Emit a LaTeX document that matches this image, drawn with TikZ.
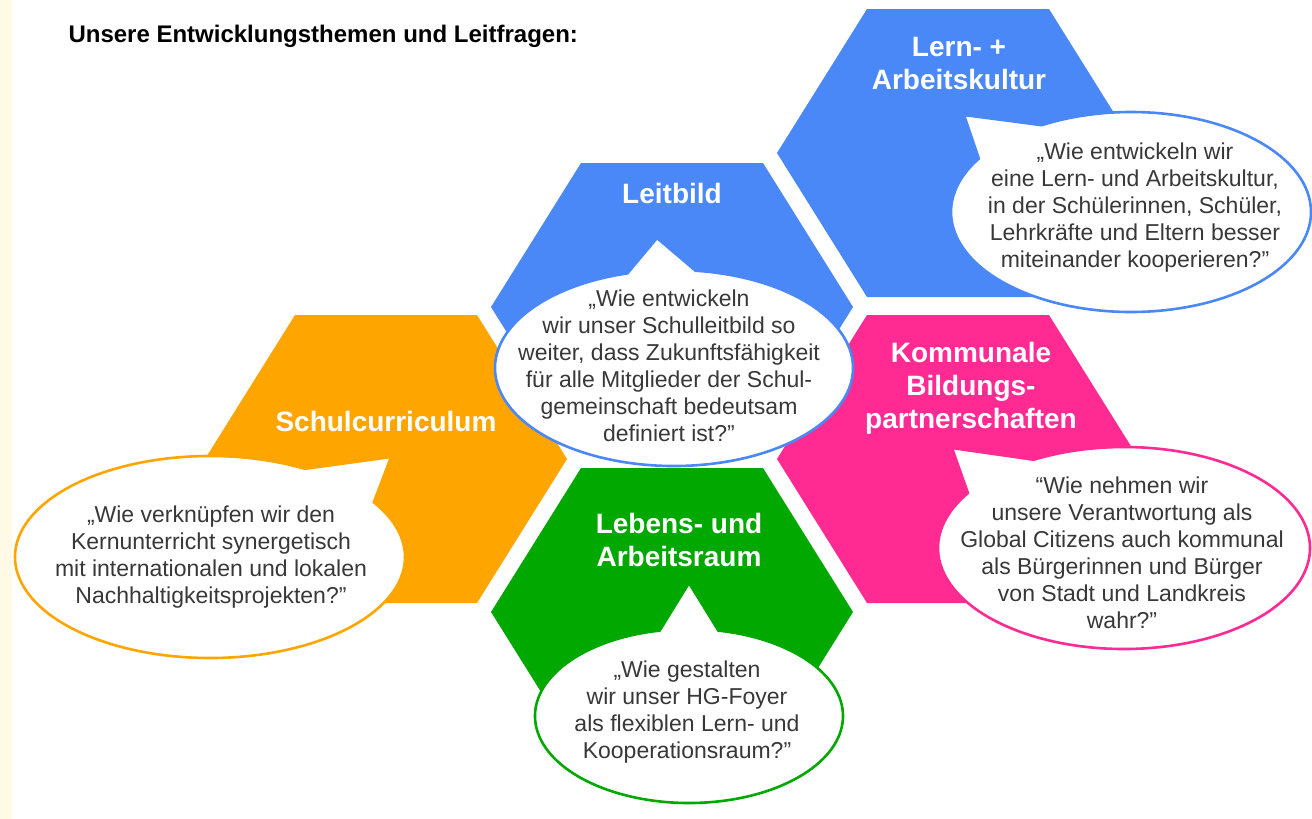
\documentclass[tikz,border=0pt]{standalone}
\usepackage{fontspec}
\setmainfont{Liberation Sans}
\usetikzlibrary{shapes.callouts}

\definecolor{leitblue}{HTML}{4A88F8}
\definecolor{currorange}{HTML}{FFA500}
\definecolor{kommpink}{HTML}{FF2A92}
\definecolor{raumgreen}{HTML}{00A800}
\definecolor{quotegray}{HTML}{383838}
\definecolor{papercream}{HTML}{FFFAE6}

\begin{document}
\begin{tikzpicture}[x=1pt,y=-1pt,
    topic/.style={text=white,font=\fontsize{28}{33}\selectfont\bfseries,align=center},
    question/.style={text=quotegray,font=\fontsize{23}{27}\selectfont,align=center},
    bubble/.style={ellipse callout,draw,fill=white,line width=2.6pt,inner sep=0pt,callout pointer arc=28}]
\useasboundingbox (0,0) rectangle (1312,819);
\fill[white] (0,0) rectangle (1312,819);
\fill[papercream] (0,0) rectangle (12,819);

\node[anchor=base west,font=\fontsize{24}{28}\selectfont\bfseries] (heading) at (65,42) {Unsere Entwicklungsthemen und Leitfragen:};

% hexagon centres
\coordinate (lern) at (958,153);
\coordinate (leit) at (672,307);
\coordinate (schul) at (386,459);
\coordinate (komm) at (958,459);
\coordinate (raum) at (672,612);

\fill[leitblue] (lern) +(-181,0) -- +(-91,-144) -- +(91,-144) -- +(181,0) -- +(91,144) -- +(-91,144) -- cycle;
\fill[leitblue] (leit) +(-181,0) -- +(-91,-144) -- +(91,-144) -- +(181,0) -- +(91,144) -- +(-91,144) -- cycle;
\fill[currorange] (schul) +(-181,0) -- +(-91,-144) -- +(91,-144) -- +(181,0) -- +(91,144) -- +(-91,144) -- cycle;
\fill[kommpink] (komm) +(-181,0) -- +(-91,-144) -- +(91,-144) -- +(181,0) -- +(91,144) -- +(-91,144) -- cycle;
\fill[raumgreen] (raum) +(-181,0) -- +(-91,-144) -- +(91,-144) -- +(181,0) -- +(91,144) -- +(-91,144) -- cycle;

% topics
\node[topic] (lerntitle) at (959,64) {Lern- +\\Arbeitskultur};
\node[topic] (leittitle) at (672,193) {Leitbild};
\node[topic] (schultitle) at (386,421) {Schulcurriculum};
\node[topic] (kommtitle) at (971,388) {Kommunale\\Bildungs-\\partnerschaften};
\node[topic] (raumtitle) at (679,540) {Lebens- und\\Arbeitsraum};

% speech bubbles
\node[bubble,draw=leitblue,minimum width=360,minimum height=200,callout absolute pointer={(964,115)}] (lernbubble) at (1131,212) {};
\node[bubble,draw=leitblue,minimum width=358,minimum height=196,callout pointer arc=22,callout absolute pointer={(657,238)}] (leitbubble) at (674,368) {};
\node[bubble,draw=currorange,minimum width=390,minimum height=202,callout absolute pointer={(391,457)}] (schulbubble) at (210,557) {};
\node[bubble,draw=kommpink,minimum width=372,minimum height=202,callout absolute pointer={(952,448)}] (kommbubble) at (1124,548) {};
\node[bubble,draw=raumgreen,minimum width=308,minimum height=174,callout pointer arc=22,callout absolute pointer={(689,583)}] (raumbubble) at (689,716) {};

% questions
\node[question] (lernq) at (1135,208) {„Wie entwickeln wir\\eine Lern- und Arbeitskultur,\\in der Schülerinnen, Schüler,\\Lehrkräfte und Eltern besser\\miteinander kooperieren?”};
\node[question] (leitq) at (669,366) {„Wie entwickeln\\wir unser Schulleitbild so\\weiter, dass Zukunftsfähigkeit\\für alle Mitglieder der Schul-\\gemeinschaft bedeutsam\\definiert ist?”};
\node[question] (schulq) at (211,557) {„Wie verknüpfen wir den\\Kernunterricht synergetisch\\mit internationalen und lokalen\\Nachhaltigkeitsprojekten?”};
\node[question] (kommq) at (1122,553) {“Wie nehmen wir\\unsere Verantwortung als\\Global Citizens auch kommunal\\als Bürgerinnen und Bürger\\von Stadt und Landkreis\\wahr?”};
\node[question] (raumq) at (687,712) {„Wie gestalten\\wir unser HG-Foyer\\als flexiblen Lern- und\\Kooperationsraum?”};
\end{tikzpicture}
\end{document}
